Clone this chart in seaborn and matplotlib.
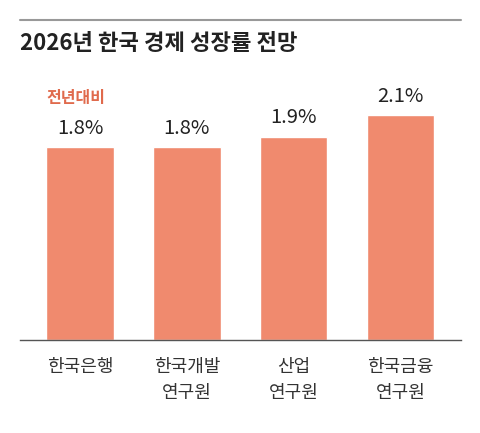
import matplotlib
matplotlib.use("Agg")
import matplotlib.pyplot as plt
from matplotlib.lines import Line2D
import seaborn as sns
import pandas as pd

title = "2026년 한국 경제 성장률 전망"
note = "전년대비"
categories = ["한국은행", "한국개발\n연구원", "산업\n연구원", "한국금융\n연구원"]
values = [1.8, 1.8, 1.9, 2.1]
value_labels = ["1.8%", "1.8%", "1.9%", "2.1%"]

sns.set_theme(style="white")
plt.rcParams["font.family"] = ["Noto Sans CJK KR", "DejaVu Sans"]

W, H = 480, 433
fig = plt.figure(figsize=(W / 100, H / 100), dpi=100)

left_px, right_px, top_px, bottom_px = 20, 461, 60, 340
ax = fig.add_axes([left_px / W, 1 - bottom_px / H,
                   (right_px - left_px) / W, (bottom_px - top_px) / H])

df = pd.DataFrame({"cat": categories, "val": values})
sns.barplot(data=df, x="cat", y="val", color="#F08A6E", saturation=1,
            width=0.63, ax=ax)

ax.set_xlim(-0.562, 3.566)
ax.set_ylim(0, 2.617)
ax.set_xlabel("")
ax.set_ylabel("")
ax.set_yticks([])
for s in ["top", "right", "left"]:
    ax.spines[s].set_visible(False)
ax.spines["bottom"].set_color("#555555")
ax.spines["bottom"].set_linewidth(1.0)
ax.tick_params(axis="x", length=0, pad=13)
ax.set_xticks(range(len(categories)))
ax.set_xticklabels(categories, fontsize=13, color="#333333", linespacing=1.55,
                   va="top")

for i, (v, lab) in enumerate(zip(values, value_labels)):
    ax.annotate(lab, (i, v), xytext=(0, 6), textcoords="offset points",
                ha="center", va="bottom", fontsize=14.5, color="#222222")

ax.annotate(note, (0 - 0.315, values[0]), xytext=(0, 30),
            textcoords="offset points", ha="left", va="bottom",
            fontsize=11.5, color="#E06A4C", fontweight="bold")

fig.text(20 / W, 1 - 43 / H, title, fontsize=16, fontweight="bold",
         color="#222222", ha="left", va="center")
fig.add_artist(Line2D([20 / W, 461 / W], [1 - 20 / H, 1 - 20 / H],
                      color="#999999", linewidth=1.5))

fig.savefig("out.png", dpi=100, facecolor="white")
